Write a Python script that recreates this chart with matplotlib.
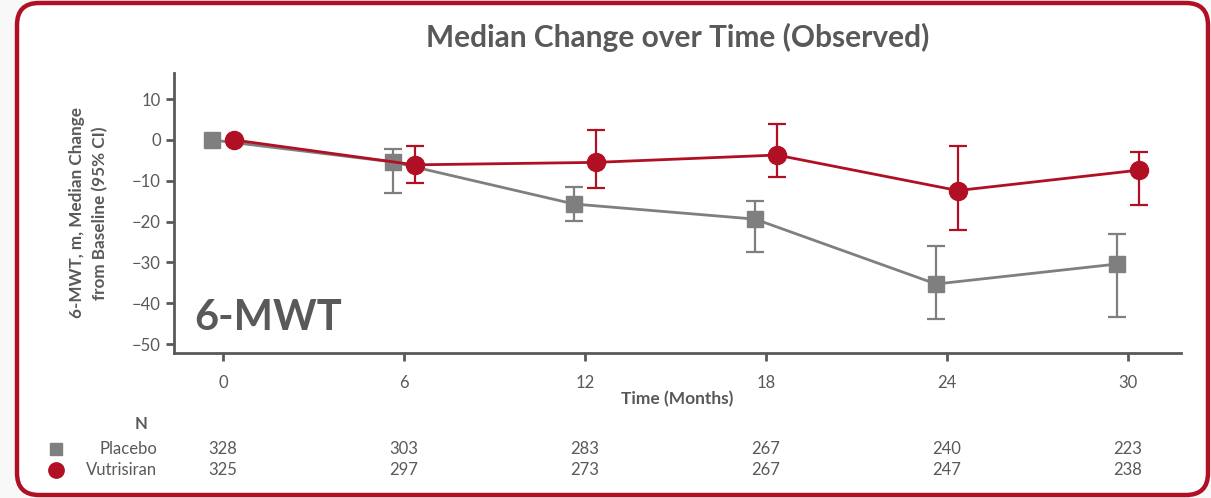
import matplotlib.pyplot as plt
from matplotlib.patches import FancyBboxPatch
from matplotlib.lines import Line2D

plt.rcParams['font.family'] = ['Lato', 'DejaVu Sans']

months = [0, 6, 12, 18, 24, 30]
placebo = [0, -5.4, -15.7, -19.4, -35.3, -30.4]
placebo_lo = [0, -13.0, -19.9, -27.4, -43.8, -43.4]
placebo_hi = [0, -2.2, -11.5, -15.0, -26.1, -23.0]
vutri = [0, -6.1, -5.5, -3.7, -12.4, -7.4]
vutri_lo = [0, -10.5, -11.7, -9.1, -22.1, -16.0]
vutri_hi = [0, -1.5, 2.5, 3.9, -1.4, -2.9]
n_placebo = [328, 303, 283, 267, 240, 223]
n_vutri = [325, 297, 273, 267, 247, 238]

GREY = '#7f7f7f'
RED = '#b10f23'
TXT = '#595959'
off = 0.36

fig = plt.figure(figsize=(12.11, 4.98), dpi=100)
fig.patch.set_facecolor('#f8f8f8')

# rounded red frame (behind the axes)
frame = FancyBboxPatch((0.17, 0.03), 11.91, 4.92,
                       boxstyle='round,pad=0,rounding_size=0.22',
                       transform=fig.dpi_scale_trans, facecolor='white',
                       edgecolor=RED, linewidth=3.2, zorder=-5)
fig.patches.append(frame)

ax = fig.add_axes([0.1437, 0.2912, 0.8313, 0.5622])
ax.set_facecolor('none')

px = [m - off for m in months]
vx = [m + off for m in months]

p_err = [[p - lo for p, lo in zip(placebo, placebo_lo)],
         [hi - p for p, hi in zip(placebo, placebo_hi)]]
v_err = [[v - lo for v, lo in zip(vutri, vutri_lo)],
         [hi - v for v, hi in zip(vutri, vutri_hi)]]

ax.errorbar(px[1:], placebo[1:], yerr=[p_err[0][1:], p_err[1][1:]], fmt='none',
            ecolor=GREY, elinewidth=1.6, capsize=6.8, capthick=1.6, zorder=2)
ax.plot(px, placebo, color=GREY, lw=2, marker='s', ms=11.5, zorder=3)
ax.errorbar(vx[1:], vutri[1:], yerr=[v_err[0][1:], v_err[1][1:]], fmt='none',
            ecolor=RED, elinewidth=1.6, capsize=6.8, capthick=1.6, zorder=4)
ax.plot(vx, vutri, color=RED, lw=2, marker='o', ms=13, zorder=5)

ax.set_xlim(-1.62, 31.75)
ax.set_ylim(-52.2, 16.4)
ax.set_xticks(months)
ax.set_yticks(range(-50, 11, 10))
ax.set_yticklabels([str(v).replace('-', '\u2212') for v in range(-50, 11, 10)])
for s in ['top', 'right']:
    ax.spines[s].set_visible(False)
for s in ['left', 'bottom']:
    ax.spines[s].set_color(TXT)
    ax.spines[s].set_linewidth(2)
ax.tick_params(axis='both', colors=TXT, labelsize=12, width=2, length=6)
ax.tick_params(axis='x', pad=10)

ax.set_title('Median Change over Time (Observed)', fontsize=21.5, fontweight='bold',
             color=TXT, pad=19)
ax.set_xlabel('Time (Months)', fontsize=12.5, fontweight='bold', color=TXT, labelpad=0)
ax.set_ylabel('6-MWT, m, Median Change\nfrom Baseline (95% CI)', fontsize=12.3,
              fontweight='bold', color=TXT, labelpad=17, linespacing=1.55)

ax.text(-0.95, -43.6, '6-MWT', fontsize=30, fontweight='bold', color=TXT,
        va='center', ha='left')

# N at risk table
fig.text(148 / 1211, 1 - 424 / 498, 'N', fontsize=12, fontweight='bold',
         color=TXT, ha='right', va='center')
rows = [('Placebo', n_placebo, 449, 's', GREY, 11), ('Vutrisiran', n_vutri, 470, 'o', RED, 13)]
for label, counts, ypix, mk, col, ms in rows:
    yf = 1 - ypix / 498
    fig.text(157 / 1211, yf, label, fontsize=12, color=TXT, ha='right', va='center')
    fig.add_artist(Line2D([56 / 1211], [yf], marker=mk, color=col, ms=ms * 0.85,
                          transform=fig.transFigure))
    for m, c in zip(months, counts):
        xfig = fig.transFigure.inverted().transform(ax.transData.transform((m, 0)))[0]
        fig.text(xfig, yf, str(c), fontsize=12, color=TXT, ha='center', va='center')

fig.savefig('out.png', dpi=100, facecolor=fig.get_facecolor())
